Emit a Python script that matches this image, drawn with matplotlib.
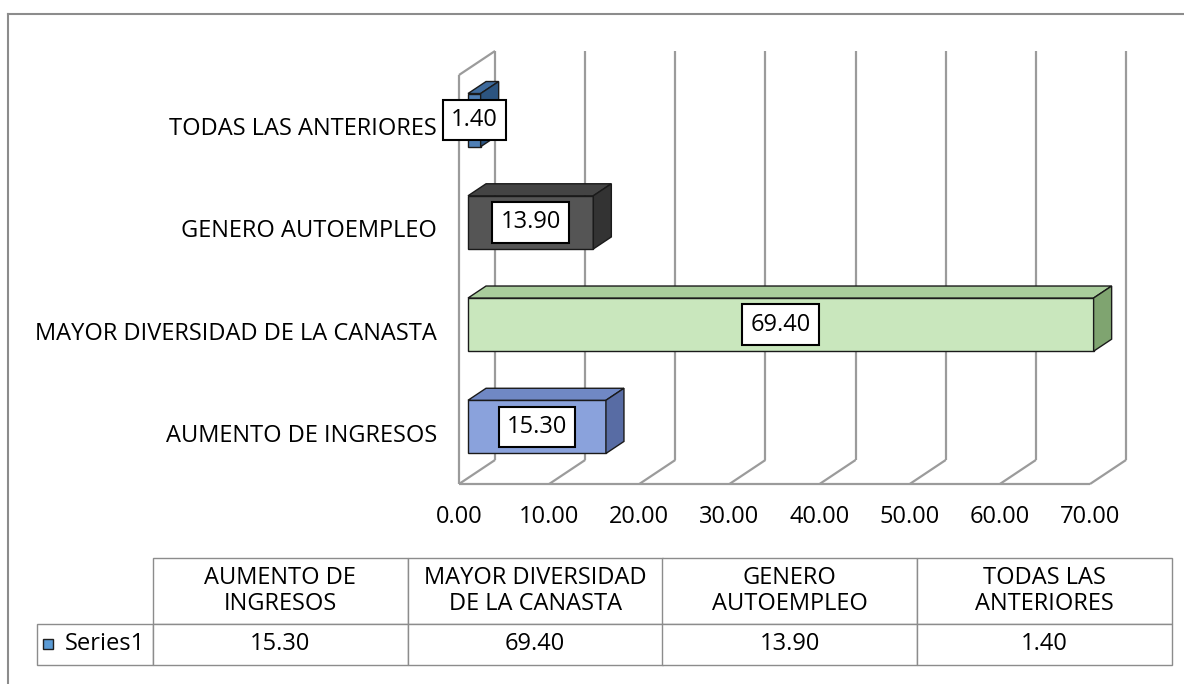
import numpy as np
import matplotlib
matplotlib.use('Agg')
import matplotlib.pyplot as plt
from matplotlib.patches import Polygon, Rectangle
from matplotlib.lines import Line2D
from matplotlib.table import Table

# datos
categorias = ['AUMENTO DE INGRESOS', 'MAYOR DIVERSIDAD DE LA CANASTA',
              'GENERO AUTOEMPLEO', 'TODAS LAS ANTERIORES']
cabecera = ['AUMENTO DE\nINGRESOS', 'MAYOR DIVERSIDAD\nDE LA CANASTA',
            'GENERO\nAUTOEMPLEO', 'TODAS LAS\nANTERIORES']
valores = [15.30, 69.40, 13.90, 1.40]
serie = 'Series1'
ticks_x = [0, 10, 20, 30, 40, 50, 60, 70]

color_frente = ['#8aa2dc', '#c9e7bd', '#555555', '#4f7fb5']
color_arriba = ['#7088c4', '#a9cd9c', '#444444', '#3e6a9c']
color_lado = ['#586ca4', '#7fa470', '#333333', '#2c5480']

plt.rcParams['font.family'] = ['Open Sans', 'DejaVu Sans']
fs = 17

W, H = 1184, 684
fig = plt.figure(figsize=(W/100, H/100), dpi=100)

ax = fig.add_axes([459/W, 1 - 484/H, 631/W, 409/H])
ax.set_xlim(0, 70)
ax.set_ylim(-0.5, 3.5)
for s in ax.spines.values():
    s.set_visible(False)

# paredes (falso 3D)
DX, DY = 4.0, 0.235
gris = '#9b9b9b'
kw = dict(color=gris, lw=1.6, clip_on=False, solid_capstyle='butt', zorder=1)
for t in ticks_x:
    ax.plot([t + DX, t + DX], [-0.5 + DY, 3.5 + DY], **kw)
    ax.plot([t, t + DX], [-0.5, -0.5 + DY], **kw)
ax.plot([0, 70], [-0.5, -0.5], **kw)
ax.plot([0, 0], [-0.5, 3.5], **kw)
ax.plot([0, DX], [3.5, 3.5 + DY], **kw)

# barras
y = np.arange(len(valores))
h = 0.52
bx, by = DX * 0.25, DY * 0.25
px, py = DX * 0.5, DY * 0.5
barras = ax.barh(y + by, valores, left=bx, height=h, color=color_frente,
                 edgecolor='#1a1a1a', lw=1, zorder=3)
for b in barras:
    b.set_clip_on(False)
for i, v in enumerate(valores):
    y0 = y[i] + by - h/2
    y1 = y[i] + by + h/2
    arriba = [(bx, y1), (bx + v, y1), (bx + v + px, y1 + py), (bx + px, y1 + py)]
    lado = [(bx + v, y0), (bx + v + px, y0 + py), (bx + v + px, y1 + py), (bx + v, y1)]
    ax.add_patch(Polygon(arriba, closed=True, fc=color_arriba[i], ec='#1a1a1a', lw=1,
                         zorder=3, clip_on=False))
    ax.add_patch(Polygon(lado, closed=True, fc=color_lado[i], ec='#1a1a1a', lw=1,
                         zorder=3, clip_on=False))
    ax.text(bx + v/2, y[i] + by, f'{v:.2f}', ha='center', va='center', fontsize=fs,
            zorder=5, bbox=dict(boxstyle='square,pad=0.35', fc='white', ec='black', lw=1.5))

ax.set_yticks(y, categorias)
ax.set_xticks(ticks_x, [f'{t:.2f}' for t in ticks_x])
ax.tick_params(axis='y', length=0, pad=16, labelsize=fs)
ax.tick_params(axis='x', length=0, pad=15, labelsize=fs)

# marco
borde = '#8c8c8c'
fig.add_artist(Line2D([8/W, 8/W], [0, 1 - 14/H], transform=fig.transFigure, color=borde, lw=1.5))
fig.add_artist(Line2D([8/W, 1], [1 - 14/H, 1 - 14/H], transform=fig.transFigure, color=borde, lw=1.5))

# tabla de datos
tax = fig.add_axes([0, 0, 1, 1])
tax.set_xlim(0, W)
tax.set_ylim(H, 0)
tax.axis('off')
tabla = Table(tax, bbox=[37/W, 1 - 665/H, 1135/W, 107/H])
anchos = [116, 254.75, 254.75, 254.75, 254.75]
altos = [66, 41]
for c in range(5):
    texto = '' if c == 0 else cabecera[c - 1]
    tabla.add_cell(0, c, anchos[c], altos[0], text=texto, loc='center')
    texto = serie if c == 0 else f'{valores[c - 1]:.2f}'
    tabla.add_cell(1, c, anchos[c], altos[1], text=texto, loc='right' if c == 0 else 'center')
tabla.auto_set_font_size(False)
tabla.set_fontsize(fs)
for (r, c), cell in tabla.get_celld().items():
    cell.set_edgecolor(borde)
    cell.set_linewidth(1)
    cell.get_text().set_linespacing(1.1)
tabla[1, 0].PAD = 0.07
tabla[0, 0].visible_edges = ''
tabla[0, 0].set_facecolor('none')
tax.add_table(tabla)
tax.add_patch(Rectangle((43, 639), 10, 10, fc='#5b9bd5', ec='#1f1f1f', lw=1))

fig.savefig('out.png', dpi=100)
